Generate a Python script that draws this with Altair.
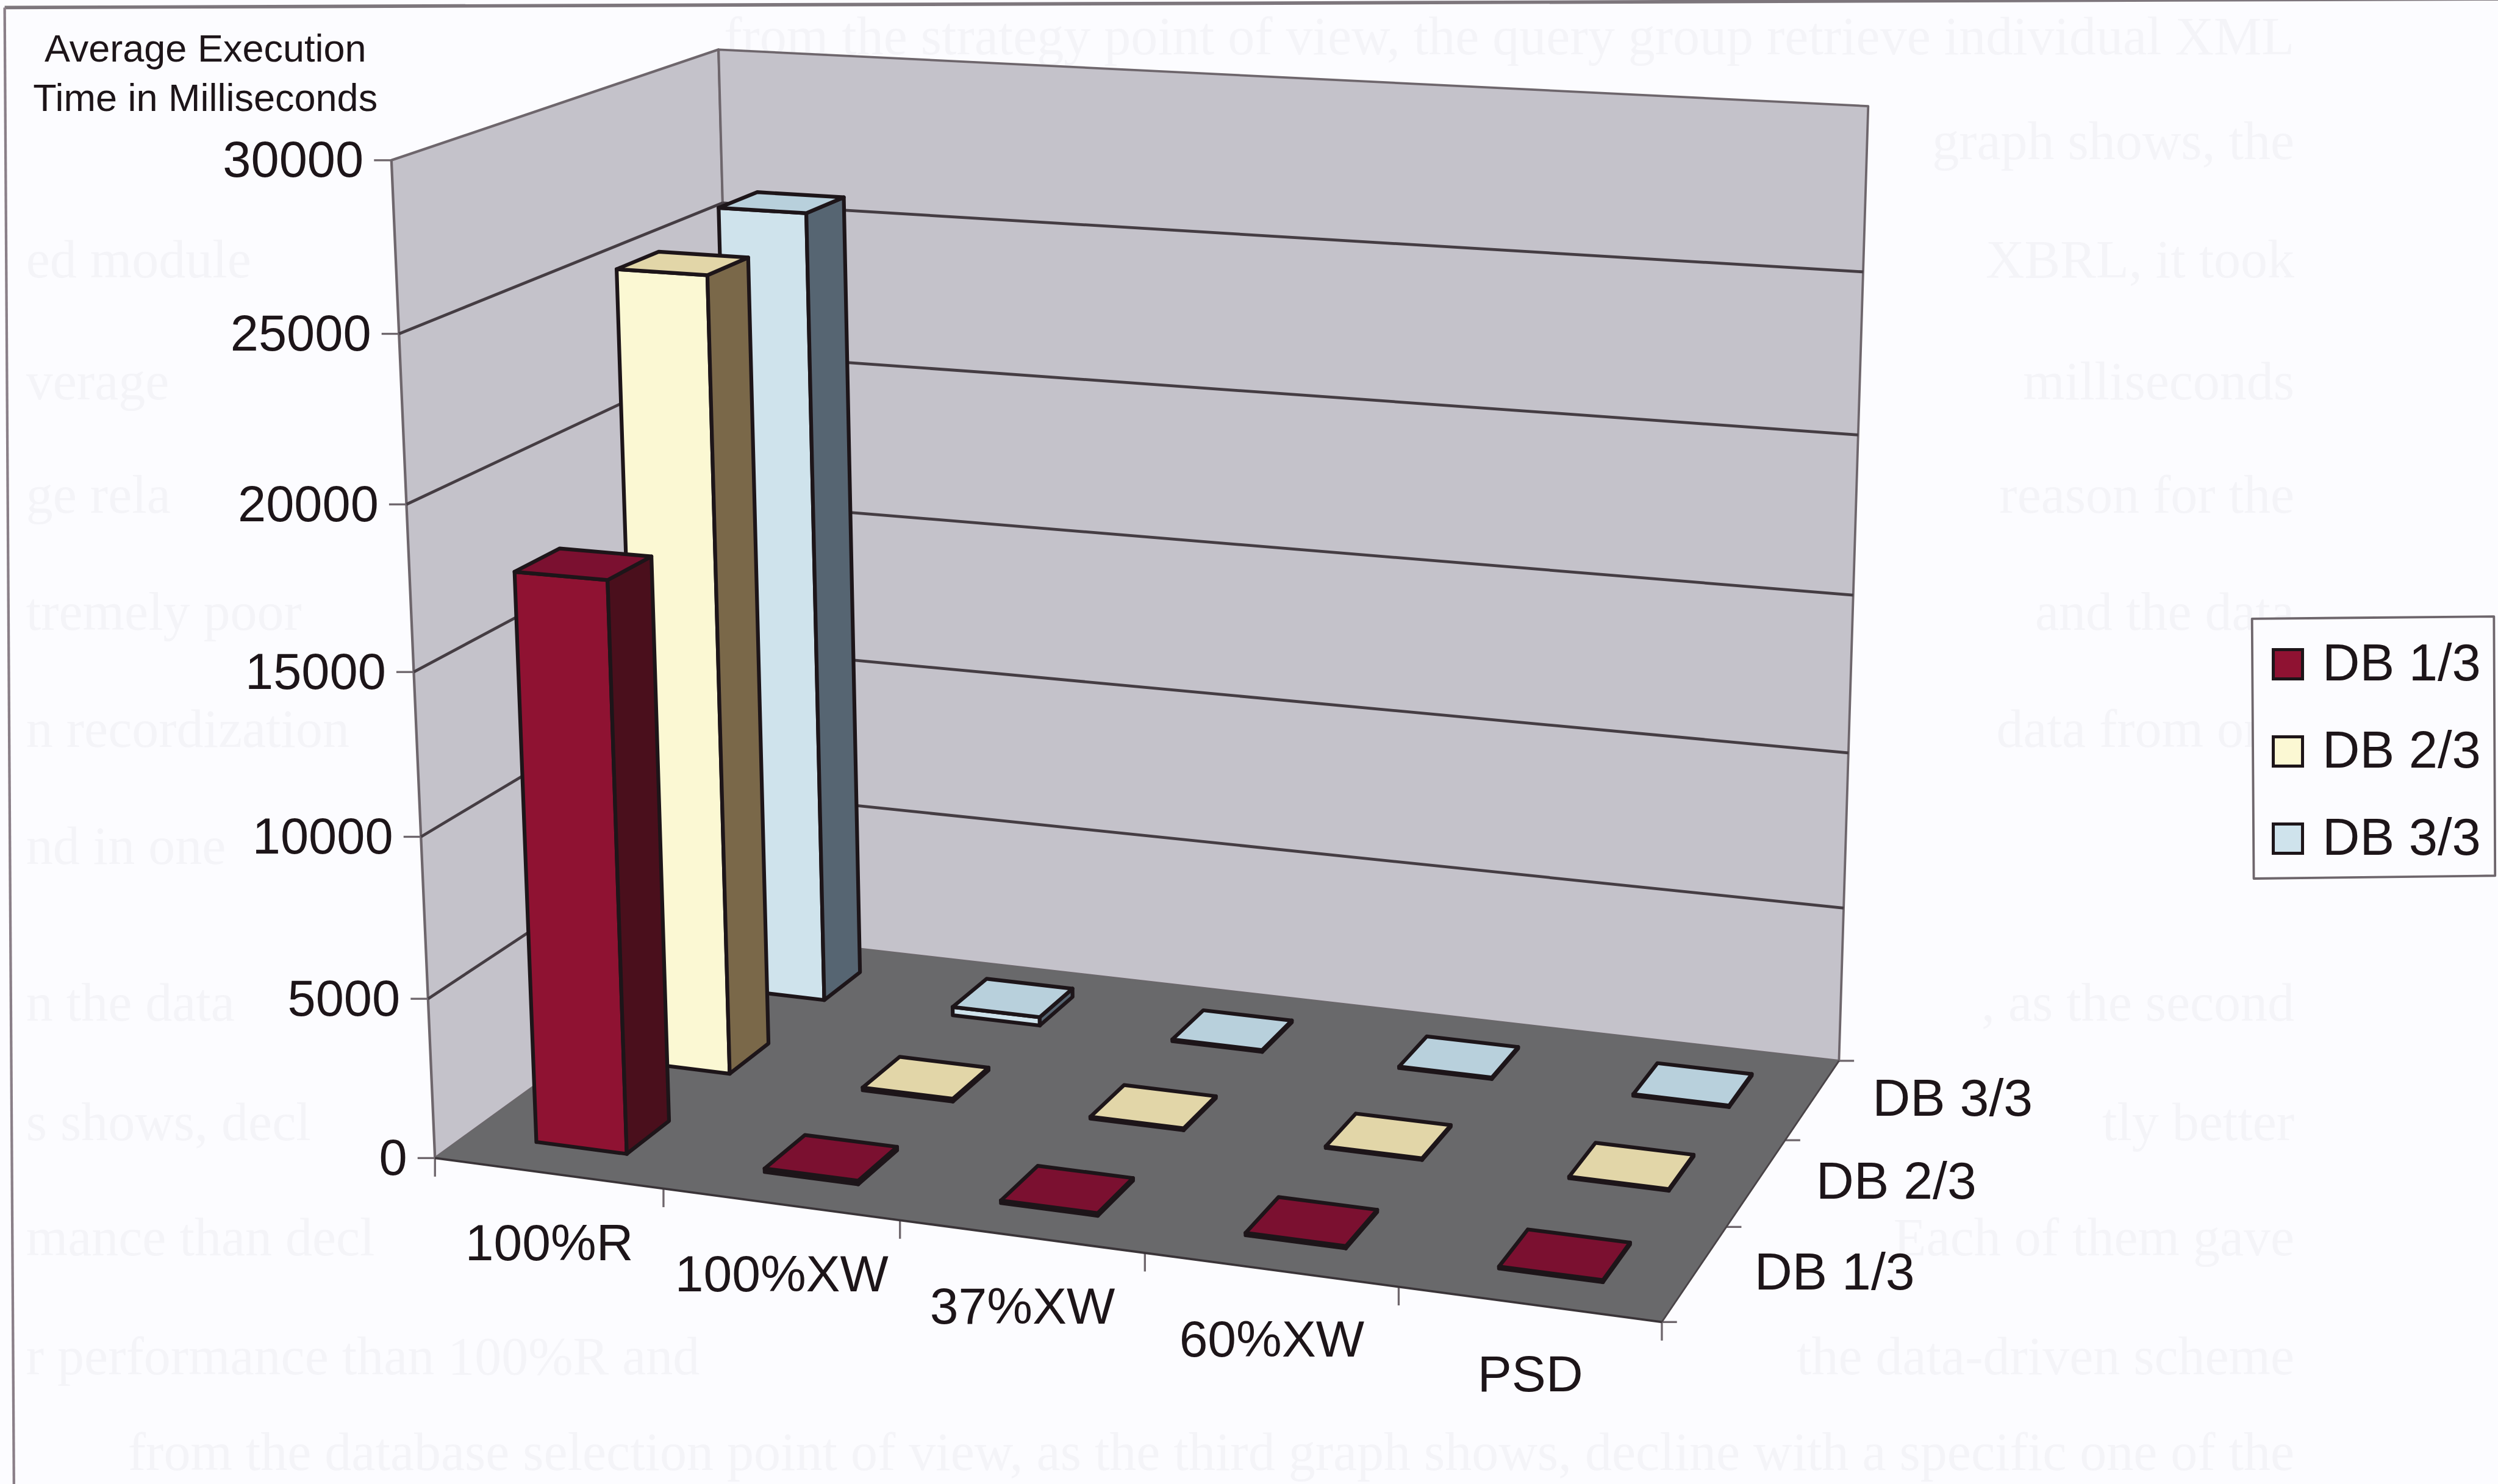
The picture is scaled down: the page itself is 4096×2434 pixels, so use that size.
import altair as alt
import numpy as np
import pandas as pd

# Chart values (milliseconds)
CATEGORIES = ["100%R", "100%XW", "37%XW", "60%XW", "PSD"]
SERIES = ["DB 1/3", "DB 2/3", "DB 3/3"]
DB1 = [17650, 110, 80, 70, 60]
DB2 = [25250, 90, 60, 50, 50]
DB3 = [25850, 280, 60, 50, 50]
VALUES = [DB1, DB2, DB3]
Y_TICKS = [0, 5000, 10000, 15000, 20000, 25000, 30000]
Y_MAX = 30000

# Sheet coordinates of the whole figure
SHEET_W, SHEET_H = 4306, 2559
OUT_W, OUT_H = 4096, 2434
K = OUT_W / SHEET_W

# Cube corners as (category, depth, height) -> sheet position; a camera matrix is fitted to them
CAMERA_POINTS = [
    ((0, 0, 0), (754, 1996)),
    ((0, 0, 1), (670, 277)),
    ((0, 1, 0), (1275, 1614)),
    ((0, 1, 1), (1244, 85)),
    ((1, 1, 0), (3171, 1829)),
    ((1, 1, 1), (3219, 183)),
    ((1, 0, 0), (2865, 2280)),
]


def fit_camera(points):
    rows = []
    for (u, v, h), (x, y) in points:
        p = [u, v, h, 1]
        rows.append(p + [0, 0, 0, 0] + [-x * c for c in p])
        rows.append([0, 0, 0, 0] + p + [-y * c for c in p])
    return np.linalg.svd(np.array(rows, dtype=float))[2][-1].reshape(3, 4)


CAM = fit_camera(CAMERA_POINTS)


def project(u, v, h):
    r = CAM @ np.array([u, v, h, 1.0])
    return float(r[0] / r[2]), float(r[1] / r[2])


INK = "#1d1519"
PAGE = "#fcfcff"
WALL = "#c4c2ca"
FLOOR = "#69696b"
GRID = "#453d43"
EDGE = "#6e666c"
FACES = {
    "DB 1/3": ("#8f1232", "#4a0f1c", "#7b1030"),
    "DB 2/3": ("#fbf8d3", "#7a6849", "#e2d6a8"),
    "DB 3/3": ("#cfe3ec", "#566572", "#b8d0dc"),
}


def add_line(store, a, b, stroke, width, tag):
    for i, (x, y) in enumerate((a, b)):
        store.append({"pid": tag, "seq": i, "x": x, "y": y, "stroke": stroke, "sw": width * K})


def add_shape(store, pts, fill, stroke, width):
    pid = len({r["pid"] for r in store})
    for i, (x, y) in enumerate(list(pts) + [pts[0]]):
        store.append({"pid": pid, "seq": i, "x": x, "y": y, "fill": fill, "stroke": stroke, "sw": width * K})


# Walls, floor and the box around the legend
wall_rows = []
add_shape(wall_rows, [project(0, 0, 0), project(0, 0, 1), project(0, 1, 1), project(0, 1, 0)], WALL, EDGE, 4.5)
add_shape(wall_rows, [project(0, 1, 0), project(0, 1, 1), project(1, 1, 1), project(1, 1, 0)], WALL, EDGE, 4)
add_shape(wall_rows, [project(0, 0, 0), project(0, 1, 0), project(1, 1, 0), project(1, 0, 0)], FLOOR, FLOOR, 2)
add_shape(wall_rows, [(3882, 1067), (4299, 1063), (4301, 1510), (3885, 1515)], PAGE, EDGE, 4)

# Gridlines, axis ticks
line_rows = []
tag = 0
for t in Y_TICKS:
    h = t / Y_MAX
    if 0 < t < Y_MAX:
        add_line(line_rows, project(0, 0, h), project(0, 1, h), GRID, 5, tag); tag += 1
        add_line(line_rows, project(0, 1, h), project(1, 1, h), GRID, 5, tag); tag += 1
    x, y = project(0, 0, h)
    add_line(line_rows, (x - 30, y), (x, y), EDGE, 3.5, tag); tag += 1
for i in range(len(CATEGORIES) + 1):
    x, y = project(i / len(CATEGORIES), 0, 0)
    add_line(line_rows, (x, y), (x, y + 32), EDGE, 3.5, tag); tag += 1
for j in range(len(SERIES) + 1):
    x, y = project(1, j / len(SERIES), 0)
    add_line(line_rows, (x, y), (x + 26, y), EDGE, 3.5, tag); tag += 1
add_line(line_rows, project(0, 0, 0), project(1, 0, 0), "#3a3438", 4, tag); tag += 1
add_line(line_rows, project(1, 0, 0), project(1, 1, 0), "#4a4448", 3, tag); tag += 1
# Outer frame of the figure
add_line(line_rows, (8, 13), (4306, -2), "#7d767c", 6, tag); tag += 1
add_line(line_rows, (8, 13), (24, 2559), "#8a7f88", 4.5, tag); tag += 1

# Bars: farthest row first, each with front, side and top faces
GAP = 0.3
bar_rows = []
for j in reversed(range(len(SERIES))):
    front, side, top = FACES[SERIES[j]]
    for i in range(len(CATEGORIES)):
        u0, u1 = (i + GAP) / 5, (i + 1 - GAP) / 5
        v0, v1 = (j + GAP) / 3, (j + 1 - GAP) / 3
        h = VALUES[j][i] / Y_MAX
        add_shape(bar_rows, [project(u0, v0, 0), project(u0, v0, h), project(u1, v0, h), project(u1, v0, 0)], front, INK, 6.5)
        add_shape(bar_rows, [project(u1, v0, 0), project(u1, v0, h), project(u1, v1, h), project(u1, v1, 0)], side, INK, 6.5)
        add_shape(bar_rows, [project(u0, v0, h), project(u0, v1, h), project(u1, v1, h), project(u1, v0, h)], top, INK, 6.5)

# Labels placed relative to the projected axes
y_labels = []
for t in Y_TICKS:
    x, y = project(0, 0, t / Y_MAX)
    y_labels.append({"x": x - 48, "y": y + 29, "text": str(t)})
cat_labels = []
for i, name in enumerate(CATEGORIES):
    x0, y0 = project(i / 5, 0, 0)
    x1, y1 = project((i + 1) / 5, 0, 0)
    cat_labels.append({"x": (x0 + x1) / 2, "y": (y0 + y1) / 2 + 150, "text": name})
depth_labels = []
for j, name in enumerate(SERIES):
    x0, y0 = project(1, j / 3, 0)
    x1, y1 = project(1, (j + 1) / 3, 0)
    depth_labels.append({"x": (x0 + x1) / 2 + 104, "y": (y0 + y1) / 2 + 26, "text": name})
title_labels = [
    {"x": 354, "y": 106, "text": "Average Execution"},
    {"x": 354, "y": 191, "text": "Time in Milliseconds"},
]

# Faint fragments of the printed page showing through the paper around the figure
PAGE_RIGHT = [
    ("from the strategy point of view, the query group retrieve individual XML", 94),
    ("graph shows, the", 274),
    ("XBRL, it took", 478),
    ("milliseconds", 689),
    ("reason for the", 884),
    ("and the data", 1086),
    ("data from one", 1288),
    (", as the second", 1760),
    ("tly better", 1966),
    ("Each of them gave", 2165),
    ("the data-driven scheme", 2370),
    ("from the database selection point of view, as the third graph shows, decline with a specific one of the", 2535),
]
PAGE_LEFT = [
    ("ed module", 478),
    ("verage", 689),
    ("ge rela", 884),
    ("tremely poor", 1086),
    ("n recordization", 1288),
    ("nd in one", 1490),
    ("n the data", 1760),
    ("s shows, decl", 1966),
    ("mance than decl", 2165),
    ("r performance than 100%R and", 2370),
]
right_df = pd.DataFrame({"text": [t for t, _ in PAGE_RIGHT], "y": [y for _, y in PAGE_RIGHT], "x": 3955})
left_df = pd.DataFrame({"text": [t for t, _ in PAGE_LEFT], "y": [y for _, y in PAGE_LEFT], "x": 45})

X = alt.X("x:Q", axis=None, scale=alt.Scale(domain=[0, SHEET_W], range=[0, OUT_W], nice=False, zero=False))
Y = alt.Y("y:Q", axis=None, scale=alt.Scale(domain=[0, SHEET_H], range=[0, OUT_H], nice=False, zero=False))


def filled_layer(rows):
    return alt.Chart(pd.DataFrame(rows)).mark_line(strokeJoin="round", strokeCap="round", clip=True).encode(
        x=X, y=Y,
        order=alt.Order("seq:Q"),
        detail=alt.Detail("pid:N"),
        fill=alt.Fill("fill:N", scale=None),
        stroke=alt.Stroke("stroke:N", scale=None),
        strokeWidth=alt.StrokeWidth("sw:Q", scale=None),
    )


line_layer = alt.Chart(pd.DataFrame(line_rows)).mark_line(clip=True).encode(
    x=X, y=Y,
    order=alt.Order("seq:Q"),
    detail=alt.Detail("pid:N"),
    stroke=alt.Stroke("stroke:N", scale=None),
    strokeWidth=alt.StrokeWidth("sw:Q", scale=None),
)


def text_layer(data, size, align="center", colour=INK, font="Liberation Sans"):
    frame = data if isinstance(data, pd.DataFrame) else pd.DataFrame(data)
    return alt.Chart(frame).mark_text(
        font=font, fontSize=size, align=align, baseline="alphabetic", color=colour, clip=True
    ).encode(x=X, y=Y, text="text:N")


# Native legend; its key marks sit out of sight beneath the tallest bars
legend_df = pd.DataFrame({"series": SERIES, "x": [1150, 1150, 1150], "y": [1400, 1400, 1400]})
legend_layer = alt.Chart(legend_df).mark_square(size=1).encode(
    x=X, y=Y,
    color=alt.Color(
        "series:N",
        scale=alt.Scale(domain=SERIES, range=[FACES[s][0] for s in SERIES]),
        legend=alt.Legend(
            orient="none", legendX=3709, legendY=1047, title=None, padding=0,
            symbolType="square", symbolSize=2300, symbolStrokeColor=INK, symbolStrokeWidth=5,
            symbolOpacity=1,
            labelFont="Liberation Sans", labelFontSize=85, labelColor=INK, labelOffset=14,
            rowPadding=57, labelLimit=400,
        ),
    ),
)

chart = alt.layer(
    text_layer(right_df, 88, "right", "#f4f4f8", "Liberation Serif"),
    text_layer(left_df, 88, "left", "#f4f4f8", "Liberation Serif"),
    filled_layer(wall_rows),
    line_layer,
    legend_layer,
    filled_layer(bar_rows),
    text_layer(y_labels, 83, "right"),
    text_layer(cat_labels, 84),
    text_layer(depth_labels, 86, "left"),
    text_layer(title_labels, 63),
).properties(
    width=OUT_W, height=OUT_H, padding=0, background=PAGE, autosize=alt.AutoSizeParams(type="none")
).configure_view(stroke=None)

chart.save("out.html", embed_options={"renderer": "svg", "actions": False})
